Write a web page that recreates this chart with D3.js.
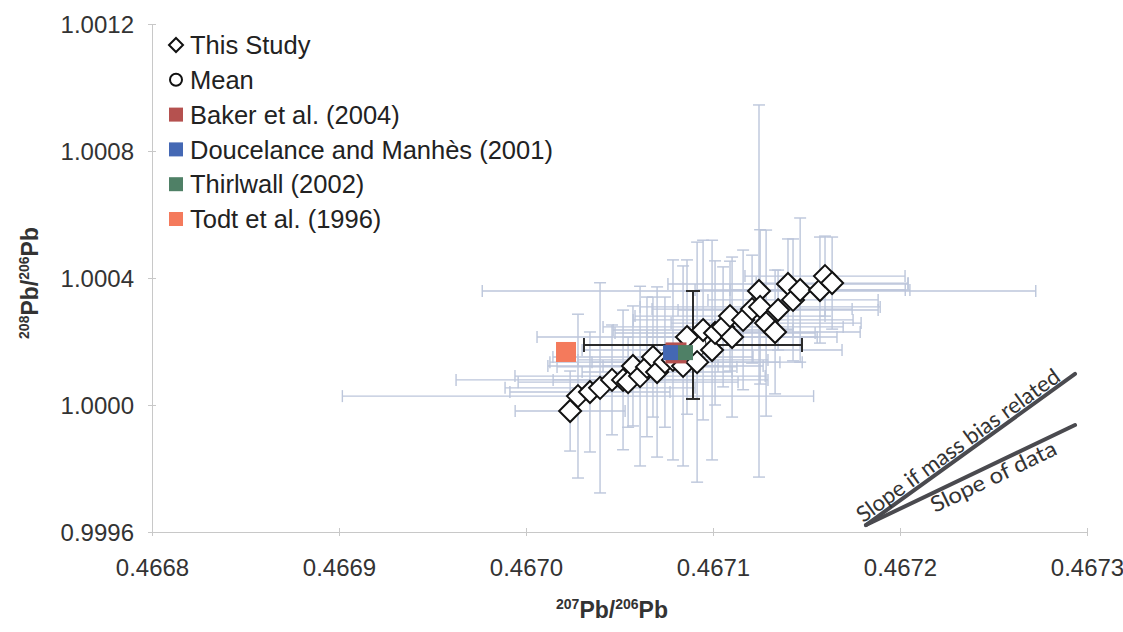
<!DOCTYPE html>
<html>
<head>
<meta charset="utf-8">
<script src="https://cdn.jsdelivr.net/npm/d3@7"></script>
<style>
  body { margin: 0; background: #fff; }
  text { font-family: "Liberation Sans", Arial, sans-serif; }
</style>
</head>
<body>
<div id="chart"></div>
<script>
// This study: 207Pb/206Pb, 208Pb/206Pb and their error half-widths
const studyX = [0.4670236, 0.4670278, 0.4670342, 0.4670396, 0.4670460, 0.4670519, 0.4670546, 0.4670572,
  0.4670610, 0.4670647, 0.4670679, 0.4670701, 0.4670743, 0.4670786, 0.4670840, 0.4670861, 0.4670915,
  0.4670947, 0.4670995, 0.4671011, 0.4671054, 0.4671091, 0.4671102, 0.4671161, 0.4671209, 0.4671246,
  0.4671252, 0.4671284, 0.4671332, 0.4671348, 0.4671401, 0.4671428, 0.4671466, 0.4671572, 0.4671599, 0.4671637];
const studyY = [0.999981, 1.000028, 1.000041, 1.000054, 1.000079, 1.000079, 1.000072, 1.000123,
  1.000091, 1.000120, 1.000151, 1.000104, 1.000135, 1.000142, 1.000123, 1.000214, 1.000135,
  1.000236, 1.000173, 1.000227, 1.000246, 1.000280, 1.000214, 1.000268, 1.000302, 1.000359,
  1.000309, 1.000258, 1.000230, 1.000299, 1.000381, 1.000331, 1.000362, 1.000362, 1.000406, 1.000384];
const studyXErr = [0.0000294, 0.000126, 0.0000428, 0.0000508, 0.0000834, 0.0000374, 0.0000588, 0.0000455,
  0.0000669, 0.0000481, 0.0000535, 0.0000401, 0.0000615, 0.0000508, 0.0000428, 0.0000802, 0.0000562,
  0.0000481, 0.0000695, 0.0000535, 0.0000642, 0.0000508, 0.0000455, 0.0000588, 0.0000535, 0.000148,
  0.0000642, 0.0000508, 0.0000455, 0.0000535, 0.0000642, 0.0000455, 0.0000562, 0.0000481, 0.0000428, 0.0000406];
const studyYErr = [0.000126, 0.000258, 0.000189, 0.000331, 0.000173, 0.000220, 0.000142, 0.000189,
  0.000283, 0.000220, 0.000189, 0.000268, 0.000205, 0.000315, 0.000315, 0.000243, 0.000378,
  0.000283, 0.000346, 0.000227, 0.000189, 0.000173, 0.000252, 0.000220, 0.000170, 0.000586,
  0.000243, 0.000293, 0.000195, 0.000126, 0.000142, 0.000192, 0.000227, 0.000167, 0.000126, 0.000145];

const meanPoint = { x: 0.4670893, y: 1.000189, xErr: 0.0000583, yErr: 0.00017 };

const refNames = ["Baker et al. (2004)", "Doucelance and Manhès (2001)", "Thirlwall (2002)", "Todt et al. (1996)"];
const refX = [0.4670802, 0.4670773, 0.4670853, 0.4670214];
const refY = [1.000164, 1.000165, 1.000165, 1.000167];
const refColors = ["#b5514f", "#4468b4", "#4f8066", "#f47a5c"];
const refMarkerSize = [21, 15, 15, 20];

const xTicks = [0.4668, 0.4669, 0.4670, 0.4671, 0.4672, 0.4673];
const yTicks = [0.9996, 1.0000, 1.0004, 1.0008, 1.0012];

// slope guide lines: shared start, two end points
const slopeStart = [0.4671818, 0.999622];
const slopeEnds = [[0.4672936, 1.0000977], [0.4672936, 0.999937]];
const slopeLabels = ["Slope if mass bias related", "Slope of data"];

const width = 1123, height = 632;
const svg = d3.select("#chart").append("svg")
  .attr("width", width).attr("height", height)
  .style("background", "#fff");

const x = d3.scaleLinear().domain([0.4668, 0.4673]).range([152, 1087]);
const y = d3.scaleLinear().domain([0.9996, 1.0012]).range([532, 24]);

// axes
const xAxis = svg.append("g")
  .attr("transform", `translate(0,${y(0.9996)})`)
  .call(d3.axisBottom(x).tickValues(xTicks).tickFormat(d3.format(".4f")).tickSize(4).tickSizeOuter(0));
const yAxis = svg.append("g")
  .attr("transform", `translate(${x(0.4668)},0)`)
  .call(d3.axisLeft(y).tickValues(yTicks).tickFormat(d3.format(".4f")).tickSize(4).tickSizeOuter(0));
[xAxis, yAxis].forEach(g => {
  g.select(".domain").attr("stroke", "#c8c8c8");
  g.selectAll(".tick line").attr("stroke", "#c8c8c8");
  g.selectAll(".tick text").attr("fill", "#333").attr("font-size", 24)
    .style("font-family", "'Liberation Sans', Arial, sans-serif");
});
xAxis.selectAll(".tick line").attr("y1", -4);
xAxis.selectAll(".tick text").attr("dy", "0").attr("y", 44);
yAxis.selectAll(".tick line").attr("x1", 4);
yAxis.selectAll(".tick text").attr("x", -18).attr("dy", "0.35em");

// axis titles
const xTitle = svg.append("text")
  .attr("x", 612).attr("y", 618).attr("text-anchor", "middle")
  .attr("font-size", 23).attr("font-weight", "bold").attr("fill", "#333");
xTitle.append("tspan").text("207").attr("font-size", 14).attr("dy", -9);
xTitle.append("tspan").text("Pb/").attr("dy", 9);
xTitle.append("tspan").text("206").attr("font-size", 14).attr("dy", -9);
xTitle.append("tspan").text("Pb").attr("dy", 9);

const yTitle = svg.append("text")
  .attr("transform", "translate(38,283) rotate(-90)").attr("text-anchor", "middle")
  .attr("font-size", 23).attr("font-weight", "bold").attr("fill", "#333");
yTitle.append("tspan").text("208").attr("font-size", 14).attr("dy", -9);
yTitle.append("tspan").text("Pb/").attr("dy", 9);
yTitle.append("tspan").text("206").attr("font-size", 14).attr("dy", -9);
yTitle.append("tspan").text("Pb").attr("dy", 9);

// error bars for this study
const study = studyX.map((v, i) => ({ x: v, y: studyY[i], xErr: studyXErr[i], yErr: studyYErr[i] }));

function drawErrorBars(g, d, color, w, cap) {
  const cx = x(d.x), cy = y(d.y);
  const x0 = x(d.x - d.xErr), x1 = x(d.x + d.xErr);
  const y0 = y(d.y - d.yErr), y1 = y(d.y + d.yErr);
  const segs = [
    [x0, cy, x1, cy], [cx, y0, cx, y1],
    [x0, cy - cap, x0, cy + cap], [x1, cy - cap, x1, cy + cap],
    [cx - cap, y0, cx + cap, y0], [cx - cap, y1, cx + cap, y1]
  ];
  segs.forEach(s => g.append("line")
    .attr("x1", s[0]).attr("y1", s[1]).attr("x2", s[2]).attr("y2", s[3])
    .attr("stroke", color).attr("stroke-width", w));
}

const errG = svg.append("g");
study.forEach(d => drawErrorBars(errG, d, "#bcc6db", 1.4, 6));

// mean with error bars
const meanG = svg.append("g");
drawErrorBars(meanG, meanPoint, "#2b2b2b", 2, 7);
meanG.append("circle")
  .attr("cx", x(meanPoint.x)).attr("cy", y(meanPoint.y)).attr("r", 13)
  .attr("fill", "#fff").attr("stroke", "#333").attr("stroke-width", 1.2);

// diamonds
svg.append("g").selectAll("path")
  .data(study).join("path")
  .attr("transform", d => `translate(${x(d.x)},${y(d.y)})`)
  .attr("d", "M0,-11L11,0L0,11L-11,0Z")
  .attr("fill", "#fff").attr("stroke", "#111").attr("stroke-width", 2);

// reference values
svg.append("g").selectAll("rect")
  .data(refNames).join("rect")
  .attr("x", (d, i) => x(refX[i]) - refMarkerSize[i] / 2)
  .attr("y", (d, i) => y(refY[i]) - refMarkerSize[i] / 2)
  .attr("width", (d, i) => refMarkerSize[i]).attr("height", (d, i) => refMarkerSize[i])
  .attr("fill", (d, i) => refColors[i]);

// slope guides
const slopeG = svg.append("g");
const labelPos = [{ t: 0.47, off: -3, len: 245 }, { t: 0.586, off: 19, len: 137 }];
slopeEnds.forEach((e, i) => {
  const sx = x(slopeStart[0]), sy = y(slopeStart[1]);
  const ex = x(e[0]), ey = y(e[1]);
  slopeG.append("line")
    .attr("x1", sx).attr("y1", sy).attr("x2", ex).attr("y2", ey)
    .attr("stroke", "#4a4a4f").attr("stroke-width", 4).attr("stroke-linecap", "round");
  const ang = Math.atan2(ey - sy, ex - sx) * 180 / Math.PI;
  const p = labelPos[i];
  const mx = sx + (ex - sx) * p.t, my = sy + (ey - sy) * p.t;
  slopeG.append("text")
    .attr("transform", `translate(${mx},${my}) rotate(${ang}) translate(0,${p.off})`)
    .attr("text-anchor", "middle")
    .attr("font-size", 22).attr("fill", "#333")
    .attr("textLength", p.len).attr("lengthAdjust", "spacingAndGlyphs")
    .style("font-family", "Lato, 'Open Sans', sans-serif")
    .text(slopeLabels[i]);
});

// legend
const legend = svg.append("g").attr("transform", "translate(176,45)");
const legendRows = ["This Study", "Mean"].concat(refNames);
legendRows.forEach((name, i) => {
  const row = legend.append("g").attr("transform", `translate(0,${i * 34.8})`);
  if (i === 0) {
    row.append("path").attr("d", "M0,-7L7,0L0,7L-7,0Z")
      .attr("fill", "#fff").attr("stroke", "#111").attr("stroke-width", 2);
  } else if (i === 1) {
    row.append("circle").attr("r", 6).attr("fill", "#fff").attr("stroke", "#111").attr("stroke-width", 2);
  } else {
    row.append("rect").attr("x", -7).attr("y", -7).attr("width", 14).attr("height", 14)
      .attr("fill", refColors[i - 2]);
  }
  row.append("text").attr("x", 14).attr("dy", "0.36em")
    .attr("font-size", 25.5).attr("fill", "#222").text(name);
});
</script>
</body>
</html>
